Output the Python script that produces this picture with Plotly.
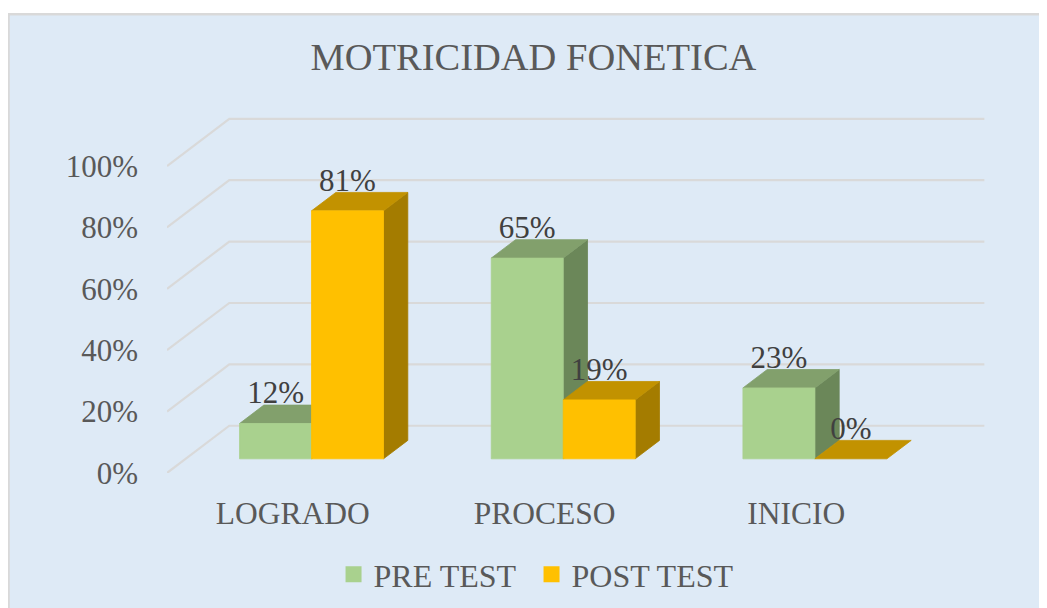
import plotly.graph_objects as go

# ---------------- data ----------------
CATEGORIES = ["LOGRADO", "PROCESO", "INICIO"]
PRE_TEST = [11.5, 65.4, 23.1]     # percent
POST_TEST = [80.8, 19.2, 0.0]     # percent
SERIES_NAMES = ["PRE TEST", "POST TEST"]
Y_TICKS = [0, 20, 40, 60, 80, 100]
Y_TICK_TEXT = ["0%", "20%", "40%", "60%", "80%", "100%"]
TITLE = "MOTRICIDAD FONETICA"

# ---------------- style / geometry ----------------
OFF = 8                      # default page body margin
W, H = 1047 - OFF, 608 - OFF
# plot-area edges in page pixels
P_LEFT, P_RIGHT, P_TOP, P_BOTTOM = 167.45, 985.5, 116.5, 473.3
ML, MR = P_LEFT - OFF, W - (P_RIGHT - OFF)
MT, MB = P_TOP - OFF, H - (P_BOTTOM - OFF)
XR = [-0.5, 2.75]
YR = [0, 116]
PW = P_RIGHT - P_LEFT
PH = P_BOTTOM - P_TOP

DX_Z = 0.2475      # x shift (category units) for full depth
DY_Z = 15.4        # y shift (percent units) for full depth
Z_FRONT, Z_BACK = 0.30, 0.69
BAR_W = 0.286

FONT = "Liberation Serif, Times New Roman, serif"
COL = {
    "PRE TEST": dict(front="#A9D18E", top="#82A06C", side="#6B8759"),
    "POST TEST": dict(front="#FFC000", top="#C29200", side="#A47C00"),
}
GRID = "#D9D9D9"


def px2paper_x(px):
    return (px - P_LEFT) / PW


def px2paper_y(py):
    return (P_BOTTOM - py) / PH


def proj(c, v, z):
    return c + z * DX_Z, v + z * DY_Z


fig = go.Figure()

# ---------------- gridlines (back wall + side wall) ----------------
gx, gy = [], []
for t in Y_TICKS:
    x0, y0 = proj(-0.5, t, 0)
    x1, y1 = proj(-0.5, t, 1)
    x2, y2 = proj(2.5, t, 1)
    gx += [x0, x1, x2, None]
    gy += [y0, y1, y2, None]
fig.add_trace(go.Scatter(x=gx, y=gy, mode="lines", line=dict(color=GRID, width=2.2),
                         hoverinfo="skip", showlegend=False))


# ---------------- 3D bars ----------------
def faces(values, offset):
    out = {"front": ([], []), "top": ([], []), "side": ([], [])}
    for i, v in enumerate(values):
        c0 = i + offset
        c1 = c0 + BAR_W
        polys = {
            "front": [(c0, 0, Z_FRONT), (c1, 0, Z_FRONT), (c1, v, Z_FRONT), (c0, v, Z_FRONT)],
            "top": [(c0, v, Z_FRONT), (c1, v, Z_FRONT), (c1, v, Z_BACK), (c0, v, Z_BACK)],
            "side": [(c1, 0, Z_FRONT), (c1, 0, Z_BACK), (c1, v, Z_BACK), (c1, v, Z_FRONT)],
        }
        for k, pts in polys.items():
            if v == 0 and k != "top":
                continue
            for p in pts + [pts[0]]:
                x, y = proj(*p)
                out[k][0].append(x)
                out[k][1].append(y)
            out[k][0].append(None)
            out[k][1].append(None)
    return out


for name, values, offset in [(SERIES_NAMES[0], PRE_TEST, -BAR_W), (SERIES_NAMES[1], POST_TEST, 0.0)]:
    f = faces(values, offset)
    for k in ["side", "top", "front"]:
        col = COL[name][k]
        fig.add_trace(go.Scatter(x=f[k][0], y=f[k][1], mode="lines", fill="toself",
                                 fillcolor=col, line=dict(color=col, width=0.8),
                                 hoverinfo="skip", showlegend=False))

# ---------------- data labels ----------------
LABEL_DROP = 2.0
for values, offset in [(PRE_TEST, -BAR_W), (POST_TEST, 0.0)]:
    lx, ly, lt = [], [], []
    for i, v in enumerate(values):
        cx = i + offset + BAR_W / 2
        x, _ = proj(cx, v, Z_FRONT)
        _, y = proj(cx, v, Z_BACK)
        lx.append(x)
        ly.append(y - LABEL_DROP)
        lt.append(f"{int(v + 0.5)}%")
    fig.add_trace(go.Scatter(x=lx, y=ly, mode="text", text=lt, textposition="top center",
                             textfont=dict(family=FONT, size=31, color="#404040"),
                             hoverinfo="skip", showlegend=False))

# ---------------- legend entries (one legend per item) ----------------
LEG_X = [334, 532]   # page px of legend left edges
for j, name in enumerate(SERIES_NAMES):
    fig.add_trace(go.Scatter(x=[None], y=[None], mode="markers", name=name,
                             legend="legend" if j == 0 else "legend2",
                             marker=dict(symbol="square", size=16, color=COL[name]["front"])))

legend_common = dict(orientation="h", xanchor="left", yanchor="middle",
                     y=px2paper_y(575),
                     font=dict(family=FONT, size=32, color="#595959"),
                     bgcolor="rgba(0,0,0,0)", itemwidth=30)

fig.update_layout(
    width=W, height=H,
    margin=dict(l=ML, r=MR, t=MT, b=MB, autoexpand=False),
    paper_bgcolor="white",
    plot_bgcolor="rgba(0,0,0,0)",
    title=dict(text=TITLE, font=dict(family=FONT, size=38.5, color="#595959"),
               x=(533.4 - OFF) / W, xanchor="center", xref="container",
               y=1 - (57 - OFF) / H, yanchor="middle", yref="container"),
    xaxis=dict(range=XR, tickvals=[0, 1, 2], ticktext=CATEGORIES, showgrid=False,
               zeroline=False, showline=False, ticks="", ticklabelstandoff=18,
               tickfont=dict(family=FONT, size=31.5, color="#595959"), fixedrange=True),
    yaxis=dict(range=YR, tickvals=Y_TICKS, ticktext=Y_TICK_TEXT, showgrid=False,
               zeroline=False, showline=False, ticks="", ticklabelstandoff=28,
               tickfont=dict(family=FONT, size=31, color="#595959"), fixedrange=True),
    legend=dict(x=px2paper_x(LEG_X[0]), **legend_common),
    legend2=dict(x=px2paper_x(LEG_X[1]), **legend_common),
    shapes=[dict(type="rect", xref="paper", yref="paper", layer="below",
                 x0=px2paper_x(9), x1=px2paper_x(1070),
                 y0=px2paper_y(640), y1=px2paper_y(13.5),
                 fillcolor="#DEEAF6", line=dict(color="#D9D9D9", width=2.5))],
    showlegend=True,
)

fig.write_html("out.html")
